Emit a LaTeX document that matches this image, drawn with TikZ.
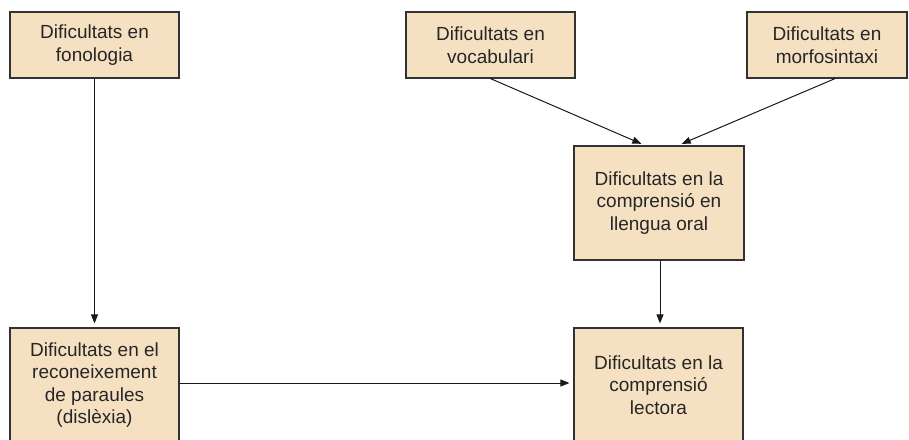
\documentclass[tikz,border=0pt]{standalone}
\usepackage{fontspec}
\setmainfont{Liberation Sans}
\usetikzlibrary{arrows.meta}
\definecolor{boxfill}{RGB}{245,225,194}
\definecolor{boxline}{RGB}{50,50,50}
\tikzset{
  box/.style={draw=boxline, line width=1.2pt, fill=boxfill, align=center, inner sep=0pt,
    font=\fontsize{19}{22.5}\selectfont, text=black!85},
  arr/.style={draw=black!90, line width=1pt, -{Triangle[length=9pt,width=7pt]}, shorten >=4pt}
}
\begin{document}
\begin{tikzpicture}[x=1pt,y=-1pt]
\useasboundingbox (0,0) rectangle (909,439);
\node[box, minimum width=169pt, minimum height=66pt] (fon) at (94.5,45) {Dificultats en\\fonologia};
\node[box, minimum width=169pt, minimum height=66pt] (voc) at (490.5,45) {Dificultats en\\vocabulari};
\node[box, minimum width=160pt, minimum height=66pt] (morf) at (827,45) {Dificultats en\\morfosintaxi};
\node[box, minimum width=170pt, minimum height=114pt] (oral) at (659,203) {Dificultats en la\\comprensió en\\llengua oral};
\node[box, minimum width=169pt, minimum height=114pt] (dis) at (94.5,385) {Dificultats en el\\reconeixement\\de paraules\\(dislèxia)};
\node[box, minimum width=169pt, minimum height=114pt] (lec) at (658.5,385) {Dificultats en la\\comprensió\\lectora};
\draw[arr] (fon.south) -- (dis.north);
\draw[arr] (voc.south) -- ([xshift=-14pt]oral.north);
\draw[arr] ([xshift=8pt]morf.south) -- ([xshift=19pt]oral.north);
\draw[arr] ([xshift=1pt]oral.south) -- ([xshift=1.5pt]lec.north);
\draw[arr] ([yshift=2pt]dis.east) -- ([yshift=2pt]lec.west);
\end{tikzpicture}
\end{document}
